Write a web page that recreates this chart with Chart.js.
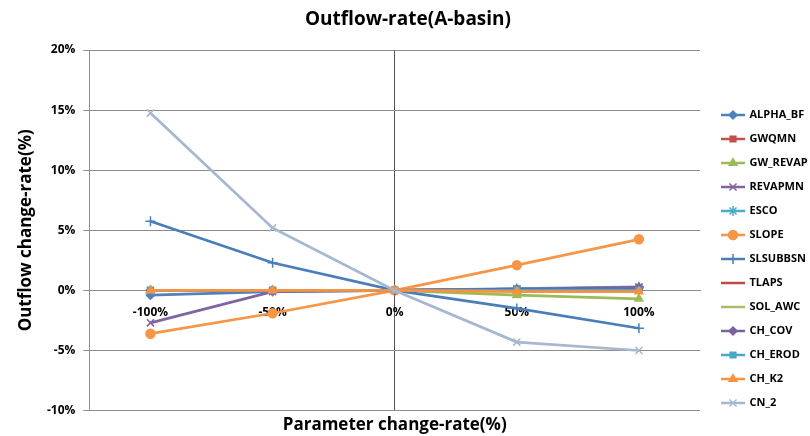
<!DOCTYPE html>
<html>
<head>
<meta charset="utf-8">
<script src="https://cdn.jsdelivr.net/npm/chart.js@4/dist/chart.umd.min.js"></script>
<style>
  html, body { margin: 0; padding: 0; background: #fff; }
  #wrap { width: 810px; height: 436px; position: relative; }
</style>
</head>
<body>
<div id="wrap"><canvas id="c" width="810" height="436"></canvas></div>
<script>
// Parameter change-rate categories and tick labels
const categories = ['-100%', '-50%', '0%', '50%', '100%'];
const yTicks = [-10, -5, 0, 5, 10, 15, 20];

// Outflow change-rate (%) for each parameter
const ALPHA_BF = [-0.4, -0.1, 0, 0.1, 0.2];
const GWQMN    = [0, 0, 0, 0.1, 0.2];
const GW_REVAP = [0, 0, 0, -0.4, -0.7];
const REVAPMN  = [-2.7, -0.1, 0, 0.1, 0.25];
const ESCO     = [0, 0, 0, 0.15, 0.3];
const SLOPE    = [-3.6, -1.9, 0, 2.1, 4.25];
const SLSUBBSN = [5.75, 2.3, 0, -1.5, -3.15];
const TLAPS    = [0, 0, 0, 0.05, 0.1];
const SOL_AWC  = [0, 0, 0, 0, 0];
const CH_COV   = [0, 0, 0, 0.1, 0.25];
const CH_EROD  = [0, 0, 0, 0, 0];
const CH_K2    = [0, 0, 0, -0.1, -0.1];
const CN_2     = [14.75, 5.2, 0, -4.3, -5.0];

const seriesNames = ['ALPHA_BF','GWQMN','GW_REVAP','REVAPMN','ESCO','SLOPE','SLSUBBSN','TLAPS','SOL_AWC','CH_COV','CH_EROD','CH_K2','CN_2'];
const seriesValues = [ALPHA_BF, GWQMN, GW_REVAP, REVAPMN, ESCO, SLOPE, SLSUBBSN, TLAPS, SOL_AWC, CH_COV, CH_EROD, CH_K2, CN_2];

// styling per series: colour, marker, marker radius
const styles = [
  ['#4F81BD', 'rectRot', 4],
  ['#C0504D', 'rect', 4],
  ['#9BBB59', 'triangle', 4.5],
  ['#8064A2', 'crossRot', 5],
  ['#4BACC6', 'star', 5],
  ['#F79646', 'circle', 4.5],
  ['#4A7EBB', 'cross', 5],
  ['#BE4B48', 'line', 4],
  ['#A6BC6B', false, 0],
  ['#7D60A0', 'rectRot', 4],
  ['#46AAC5', 'rect', 4],
  ['#F69240', 'triangle', 4.5],
  ['#A7B7CE', 'crossRot', 5]
];

const datasets = seriesNames.map((name, i) => {
  const [color, marker, r] = styles[i];
  return {
    label: name,
    data: seriesValues[i],
    borderColor: color,
    backgroundColor: color,
    borderWidth: 2.75,
    pointStyle: marker,
    pointRadius: marker ? r : 0,
    pointHoverRadius: marker ? r : 0,
    pointBackgroundColor: color,
    pointBorderColor: color,
    pointBorderWidth: 1.5,
    tension: 0,
    order: seriesNames.length - i
  };
});

// legend swatch: a short line with the series marker in the middle
function makeSwatch(ds) {
  const c = document.createElement('canvas');
  c.width = 24; c.height = 12;
  const g = c.getContext('2d');
  g.strokeStyle = ds.borderColor;
  g.lineWidth = 2.5;
  g.beginPath(); g.moveTo(0, 6); g.lineTo(24, 6); g.stroke();
  if (ds.pointStyle && Chart.helpers && Chart.helpers.drawPoint) {
    g.fillStyle = ds.pointBackgroundColor;
    g.strokeStyle = ds.pointBorderColor;
    g.lineWidth = 1.5;
    Chart.helpers.drawPoint(g, { pointStyle: ds.pointStyle, radius: ds.pointRadius, borderWidth: 1.5, rotation: 0 }, 12, 6);
  }
  return c;
}
const swatches = datasets.map(makeSwatch);

const boldFont = (size) => ({ family: '"Open Sans", "DejaVu Sans", sans-serif', size: size, weight: 'bold' });

new Chart(document.getElementById('c'), {
  type: 'line',
  data: { labels: categories, datasets: datasets },
  options: {
    responsive: false,
    animation: false,
    events: [],
    layout: { padding: { left: 6, right: 0, top: 0, bottom: 0 } },
    plugins: {
      title: {
        display: true,
        text: 'Outflow-rate(A-basin)',
        color: '#000',
        font: boldFont(19),
        padding: { top: 8.6, bottom: 18.6 }
      },
      legend: {
        display: true,
        position: 'right',
        align: 'center',
        maxWidth: 101,
        title: {
          display: true,
          text: ' ',
          font: { size: 10 },
          padding: { top: 70, bottom: 0 }
        },
        labels: {
          usePointStyle: true,
          pointStyleWidth: 22,
          boxHeight: 11,
          padding: 13,
          color: '#000',
          font: boldFont(11),
          generateLabels: (chart) => chart.data.datasets.map((ds, i) => ({
            text: ds.label,
            pointStyle: swatches[i],
            fillStyle: ds.borderColor,
            strokeStyle: ds.borderColor,
            lineWidth: 0,
            hidden: false,
            datasetIndex: i,
            fontColor: '#000'
          }))
        }
      },
      tooltip: { enabled: false }
    },
    scales: {
      x: {
        type: 'category',
        offset: true,
        position: { y: 0 },
        grid: {
          offset: false,
          drawTicks: false,
          color: (ctx) => ctx.index === 2 ? '#555' : 'rgba(0,0,0,0)',
          lineWidth: 1
        },
        border: { display: true, color: '#8c8c8c' },
        ticks: { color: '#000', font: boldFont(12), padding: 15, maxRotation: 0 }
      },
      xTitle: {
        type: 'category',
        position: 'bottom',
        offset: true,
        grid: { display: false, drawTicks: false },
        border: { display: false },
        ticks: { display: false },
        title: {
          display: true,
          text: 'Parameter change-rate(%)',
          color: '#000',
          font: boldFont(17),
          padding: { top: 4, bottom: 1 }
        }
      },
      y: {
        type: 'linear',
        position: 'left',
        min: -10,
        max: 20,
        afterBuildTicks: (scale) => { scale.ticks = yTicks.map(v => ({ value: v })); },
        grid: { color: '#8c8c8c', lineWidth: 1, drawTicks: true, tickLength: 6, tickColor: '#8c8c8c' },
        border: { display: true, color: '#8c8c8c' },
        ticks: { color: '#000', font: boldFont(12), padding: 8, callback: (v) => v + '%' },
        title: {
          display: true,
          text: 'Outflow change-rate(%)',
          color: '#000',
          font: boldFont(17),
          padding: { top: 10, bottom: 2.6 }
        }
      },
      yGap: {
        type: 'linear',
        position: 'right',
        grid: { display: false, drawTicks: false },
        border: { display: false },
        ticks: { display: false },
        afterFit: (scale) => { scale.width = 9; }
      }
    }
  }
});
</script>
</body>
</html>
